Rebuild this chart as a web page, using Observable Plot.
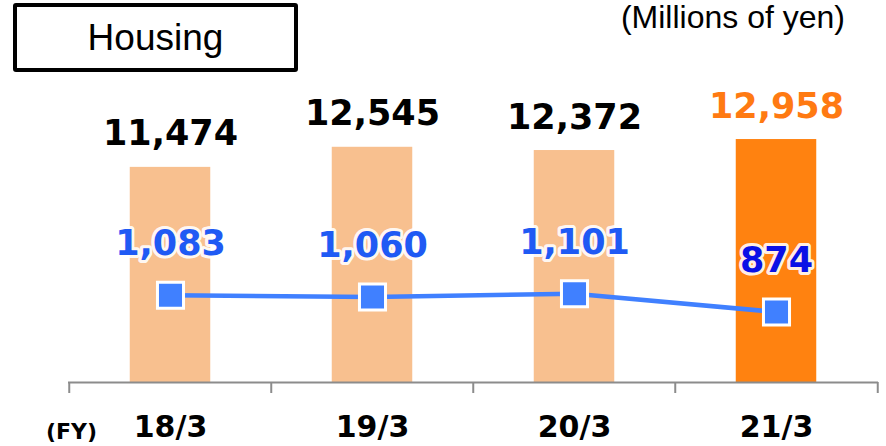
<!DOCTYPE html>
<html>
<head>
<meta charset="utf-8">
<script src="https://cdn.jsdelivr.net/npm/d3@7"></script>
<script src="https://cdn.jsdelivr.net/npm/@observablehq/plot@0.6"></script>
<style>
  html, body { margin: 0; padding: 0; background: #fff; }
  #chart { position: relative; width: 886px; height: 446px; }
  #chart svg { display: block; }
  .title-box {
    position: absolute; left: 13px; top: 3px; width: 285px; height: 69px;
    box-sizing: border-box; border: 4px solid #000; border-radius: 3px;
    display: flex; align-items: center; justify-content: center;
    font: 37px "Liberation Sans", Arial, sans-serif; color: #000; background: #fff;
  }
  .unit {
    position: absolute; right: 41px; top: 1px;
    font: 32px/32px "Liberation Sans", Arial, sans-serif; color: #000;
  }
</style>
</head>
<body>
<div id="chart">
  <div class="title-box">Housing</div>
  <div class="unit">(Millions of yen)</div>
</div>
<script>
// Fiscal years and results for the Housing segment (millions of yen)
const years = ["18/3", "19/3", "20/3", "21/3"];
const netSales = [11474, 12545, 12372, 12958];
const operatingIncome = [1083, 1060, 1101, 874];

const rows = years.map((year, i) => ({year, sales: netSales[i], income: operatingIncome[i], latest: i === years.length - 1}));

// Layout and scale settings
const W = 886, H = 446;
const marginLeft = 68, marginRight = 8, marginTop = 7, marginBottom = 64;
const salesMax = 20000;     // top of the bar scale
const incomeMax = 4650;     // top of the secondary (line) scale
const toBarUnits = v => v * salesMax / incomeMax;
const step = (W - marginLeft - marginRight) / years.length;
const barWidth = 81;

const barColor = "#F8C08F", barLatest = "#FF8210";
const labelLatest = "#FF7A12";
const lineColor = "#4080FF", incomeText = "#1F5AF4", incomeLatest = "#0A10E6";
const axisColor = "#8C8C8C";
const boldFont = "DejaVu Sans";

const chart = Plot.plot({
  width: W, height: H,
  marginLeft, marginRight, marginTop, marginBottom,
  x: {type: "band", domain: years, padding: 0, label: null},
  y: {domain: [0, salesMax], axis: null},
  marks: [
    Plot.barY(rows, {
      x: "year", y: "sales",
      fill: d => d.latest ? barLatest : barColor,
      insetLeft: (step - barWidth) / 2, insetRight: (step - barWidth) / 2
    }),
    Plot.ruleY([0], {stroke: axisColor, strokeWidth: 2}),
    // boundary ticks between fiscal years
    Plot.axisX({label: null, tickSize: 11, dx: -step / 2, tickFormat: () => "", stroke: axisColor, strokeWidth: 2}),
    Plot.axisX({label: null, ticks: [years[years.length - 1]], tickSize: 11, dx: step / 2, tickFormat: () => "", stroke: axisColor, strokeWidth: 2}),
    Plot.axisX({label: null, tickSize: 0, tickPadding: 33, fontSize: 30, fontWeight: "bold", fontFamily: boldFont, fill: "#000"}),
    Plot.text(["(FY)"], {frameAnchor: "bottom-left", textAnchor: "middle", lineAnchor: "bottom", dx: 3, dy: 56, fontSize: 22, fontWeight: "bold", fontFamily: boldFont, fill: "#000"}),
    // sales values above the bars
    Plot.text(rows, {
      x: "year", y: "sales", text: d => d3.format(",")(d.sales),
      lineAnchor: "bottom", dy: -22, fontSize: 35, fontWeight: "bold", fontFamily: boldFont,
      fill: d => d.latest ? labelLatest : "#000"
    }),
    // operating income line on the secondary scale
    Plot.line(rows, {x: "year", y: d => toBarUnits(d.income), stroke: lineColor, strokeWidth: 4.5}),
    Plot.dot(rows, {
      x: "year", y: d => toBarUnits(d.income), symbol: "square", r: 14.7,
      fill: lineColor, stroke: "#fff", strokeWidth: 3
    }),
    Plot.text(rows, {
      x: "year", y: d => toBarUnits(d.income), text: d => d3.format(",")(d.income),
      lineAnchor: "bottom", dy: -40, fontSize: 35, fontWeight: "bold", fontFamily: boldFont,
      fill: d => d.latest ? incomeLatest : incomeText,
      stroke: "#fff", strokeWidth: 6, strokeOpacity: 0.9
    })
  ]
});

document.getElementById("chart").prepend(chart);
</script>
</body>
</html>
